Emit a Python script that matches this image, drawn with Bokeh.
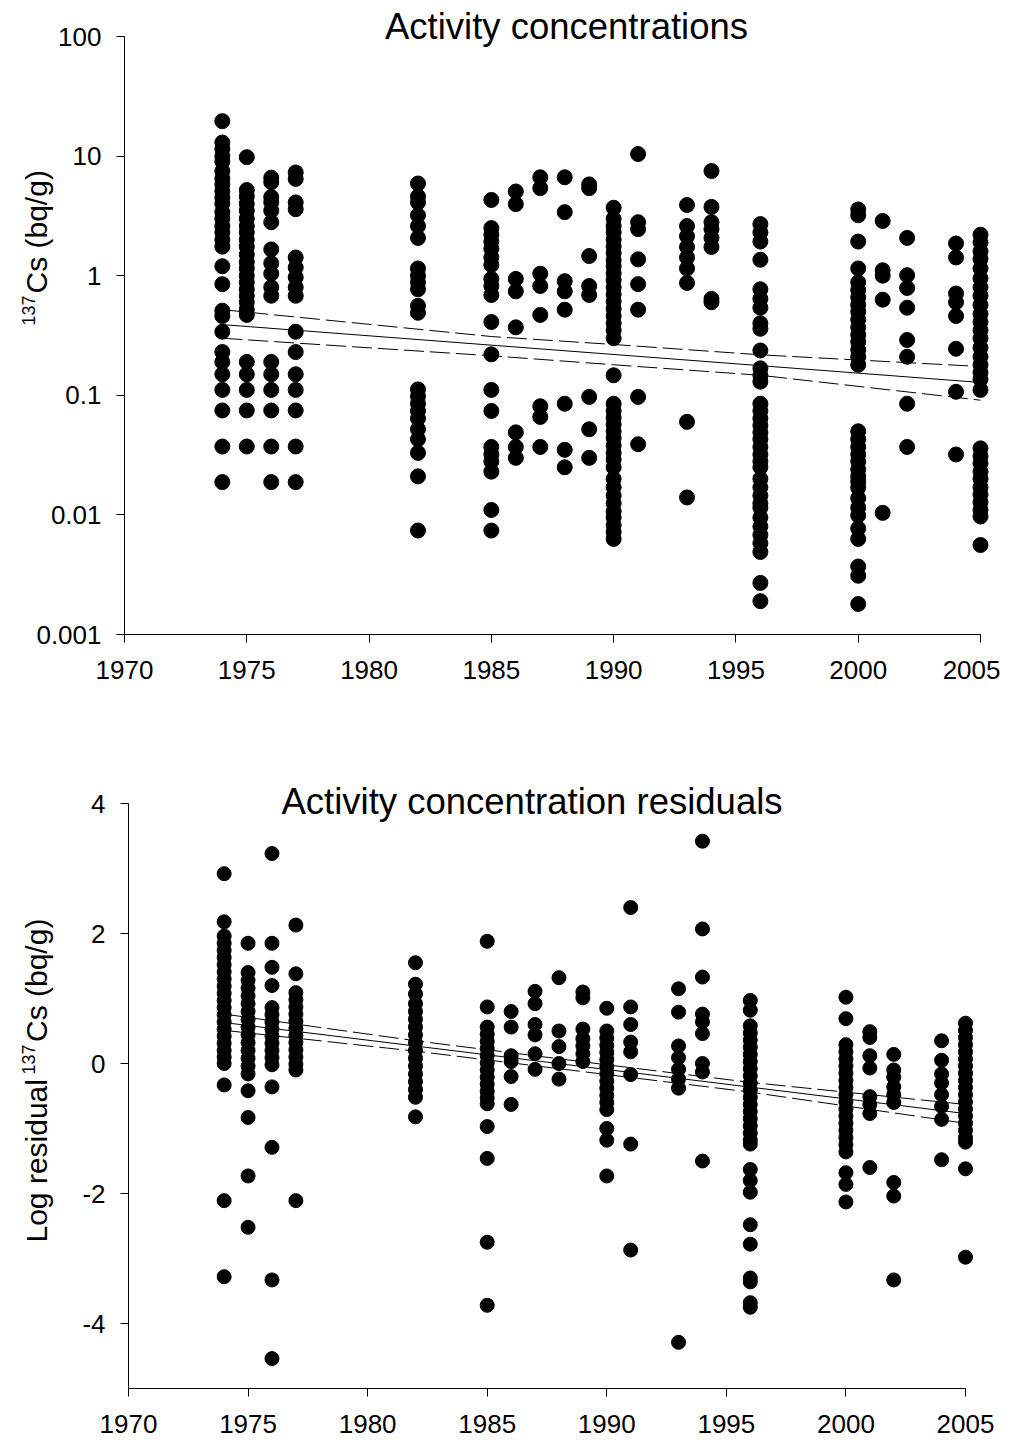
import math
from bokeh.plotting import figure
from bokeh.models import Range1d, FixedTicker, Label, CustomJSTickFormatter
from bokeh.layouts import column
from bokeh.embed import file_html
from bokeh.resources import INLINE

# ---------------- data: activity concentrations (bq/g) ----------------
conc_1974 = [19.6, 13.0, 11.5, 10.0, 9.0, 7.5, 6.5, 5.8, 5.1, 4.5, 4.0, 3.4, 3.0, 2.6, 2.3, 2.0, 1.75,
             1.2, 0.85, 0.51, 0.46, 0.34, 0.23, 0.19, 0.15, 0.111, 0.0747, 0.0373, 0.0188]
conc_1975 = [9.8, 5.2, 4.6, 4.0, 3.5, 3.0, 2.6, 2.3, 2.0, 1.75, 1.5, 1.3, 1.15, 1.0, 0.88, 0.77, 0.68,
             0.6, 0.52, 0.47, 0.19, 0.15, 0.111, 0.0747, 0.0373]
conc_1976 = [6.6, 6.05, 4.55, 4.1, 3.5, 2.8, 1.66, 1.27, 1.04, 0.8, 0.68, 0.19, 0.15, 0.111, 0.0747,
             0.0373, 0.0188]
conc_1977 = [7.3, 6.45, 4.1, 3.6, 1.42, 1.17, 0.97, 0.8, 0.68, 0.34, 0.23, 0.15, 0.111, 0.0747,
             0.0373, 0.0188]
conc_1982 = [5.9, 4.6, 4.1, 3.2, 2.6, 2.07, 1.15, 1.0, 0.88, 0.77, 0.56, 0.49, 0.112, 0.098, 0.085,
             0.074, 0.064, 0.052, 0.043, 0.033, 0.021, 0.0074]
conc_1985 = [4.3, 2.5, 2.2, 1.93, 1.68, 1.42, 1.23, 0.94, 0.82, 0.69, 0.41, 0.22, 0.111, 0.074, 0.037,
             0.032, 0.028, 0.023, 0.011, 0.0074]
conc_1986 = [5.06, 3.97, 0.94, 0.74, 0.37, 0.049, 0.037, 0.030]
conc_1987 = [6.65, 5.4, 1.04, 0.82, 0.47, 0.081, 0.066, 0.037]
conc_1988 = [6.65, 3.4, 0.90, 0.74, 0.52, 0.085, 0.035, 0.025]
conc_1989 = [5.8, 5.4, 1.46, 0.82, 0.69, 0.097, 0.052, 0.030]
conc_1990 = [3.7, 2.99, 2.6, 2.3, 2.0, 1.75, 1.55, 1.35, 1.2, 1.05, 0.92, 0.8, 0.7, 0.61, 0.53, 0.46,
             0.40, 0.35, 0.30, 0.147, 0.085, 0.074, 0.065, 0.057, 0.05, 0.044, 0.038, 0.033, 0.029,
             0.025, 0.020, 0.017, 0.0145, 0.0125, 0.0107, 0.0095, 0.0082, 0.0072, 0.0063]
conc_1991 = [10.4, 2.8, 2.45, 1.37, 0.85, 0.52, 0.097, 0.039]
conc_1993 = [3.9, 2.6, 2.14, 1.74, 1.42, 1.15, 0.87, 0.060, 0.014]
conc_1994 = [7.5, 3.76, 2.8, 2.45, 2.07, 1.74, 0.64, 0.60]
conc_1996 = [2.7, 2.3, 1.93, 1.36, 0.77, 0.64, 0.54, 0.40, 0.36, 0.237, 0.168, 0.147, 0.13, 0.085,
             0.074, 0.064, 0.056, 0.049, 0.043, 0.037, 0.032, 0.028, 0.025, 0.020, 0.017, 0.0145,
             0.0125, 0.0115, 0.0095, 0.008, 0.0068, 0.0058, 0.0049, 0.0027, 0.0019]
conc_2000 = [3.58, 3.2, 1.93, 1.15, 0.88, 0.76, 0.66, 0.57, 0.5, 0.43, 0.37, 0.32, 0.28, 0.24, 0.21,
             0.18, 0.05, 0.043, 0.037, 0.032, 0.028, 0.024, 0.021, 0.019, 0.0169, 0.0138, 0.0115,
             0.0099, 0.0077, 0.0063, 0.0037, 0.0031, 0.0018]
conc_2001 = [2.87, 1.11, 1.0, 0.63, 0.0104]
conc_2002 = [2.07, 1.01, 0.79, 0.54, 0.29, 0.21, 0.085, 0.037]
conc_2004 = [1.86, 1.42, 0.71, 0.60, 0.46, 0.245, 0.107, 0.032]
conc_2005 = [2.2, 1.9, 1.6, 1.38, 1.15, 0.95, 0.8, 0.68, 0.57, 0.48, 0.41, 0.35, 0.3, 0.25, 0.21, 0.18,
             0.155, 0.136, 0.111, 0.036, 0.031, 0.027, 0.023, 0.02, 0.017, 0.0148, 0.0128, 0.011,
             0.0097, 0.0056]

# regression line and confidence band (top panel)
conc_fit_years = [1974, 2005]
conc_fit = [0.39, 0.128]
conc_band_years = [1974, 1985, 1990, 1996, 2005]
conc_band_upper = [0.52, 0.31, 0.266, 0.218, 0.174]
conc_band_lower = [0.30, 0.214, 0.18, 0.147, 0.091]

# ---------------- data: log residuals ----------------
res_1974 = [2.92, 2.18, 1.96, 1.85, 1.74, 1.63, 1.52, 1.41, 1.30, 1.19, 1.08, 0.97, 0.86, 0.75, 0.64,
            0.53, 0.42, 0.31, 0.20, 0.10, 0.0, -0.33, -2.11, -3.28]
res_1975 = [1.85, 1.40, 1.28, 1.16, 1.04, 0.92, 0.80, 0.68, 0.56, 0.44, 0.32, 0.20, 0.08, -0.04, -0.16,
            -0.42, -0.83, -1.73, -2.52]
res_1976 = [3.23, 1.85, 1.48, 1.2, 0.86, 0.75, 0.64, 0.53, 0.42, 0.31, 0.2, 0.09, -0.02, -0.36, -1.29,
            -3.33, -4.54]
res_1977 = [2.13, 1.38, 1.09, 0.98, 0.87, 0.76, 0.65, 0.54, 0.43, 0.32, 0.21, 0.10, -0.01, -0.1, -2.11]
res_1982 = [1.55, 1.22, 1.07, 0.92, 0.8, 0.68, 0.56, 0.44, 0.32, 0.2, 0.08, -0.04, -0.16, -0.28, -0.4,
            -0.52, -0.82]
res_1985 = [1.88, 0.87, 0.56, 0.45, 0.34, 0.23, 0.12, 0.01, -0.1, -0.21, -0.32, -0.43, -0.53, -0.62,
            -0.97, -1.46, -2.75, -3.72]
res_1986 = [0.80, 0.56, 0.12, 0.03, -0.2, -0.63]
res_1987 = [1.11, 0.92, 0.6, 0.44, 0.15, -0.09]
res_1988 = [1.32, 0.5, 0.26, 0.0, -0.24]
res_1989 = [1.10, 1.01, 0.53, 0.38, 0.27, 0.15, 0.03]
res_1990 = [0.85, 0.5, 0.39, 0.28, 0.17, 0.06, -0.05, -0.16, -0.27, -0.38, -0.49, -0.6, -0.71, -1.0,
            -1.18, -1.73]
res_1991 = [2.40, 0.87, 0.6, 0.33, 0.18, -0.17, -1.24, -2.87]
res_1993 = [1.15, 0.79, 0.27, 0.09, -0.09, -0.24, -0.38, -4.29]
res_1994 = [3.42, 2.07, 1.33, 0.76, 0.64, 0.46, 0.0, -0.13, -1.5]
res_1996 = [0.97, 0.82, 0.58, 0.47, 0.36, 0.25, 0.14, 0.03, -0.08, -0.19, -0.3, -0.41, -0.52, -0.63,
            -0.74, -0.85, -0.96, -1.07, -1.18, -1.24, -1.63, -1.8, -1.98, -2.48, -2.78, -3.3, -3.36,
            -3.68, -3.75]
res_2000 = [1.02, 0.69, 0.29, 0.18, 0.07, -0.04, -0.15, -0.26, -0.37, -0.48, -0.59, -0.7, -0.81, -0.92,
            -1.03, -1.14, -1.25, -1.36, -1.68, -1.86, -2.13]
res_2001 = [0.49, 0.40, 0.12, -0.07, -0.51, -0.63, -0.77, -1.6]
res_2002 = [0.14, -0.1, -0.21, -0.36, -0.48, -0.6, -1.83, -2.04, -3.33]
res_2004 = [0.35, 0.05, -0.16, -0.3, -0.48, -0.66, -0.86, -1.48]
res_2005 = [0.62, 0.51, 0.4, 0.29, 0.18, 0.07, -0.04, -0.15, -0.26, -0.37, -0.48, -0.59, -0.7, -0.81,
            -0.92, -1.03, -1.14, -1.21, -1.62, -2.98]

res_fit_years = [1974, 2005]
res_fit = [0.63, -0.77]
res_band_years = [1974, 1982, 1990, 1996, 2005]
res_band_upper = [0.76, 0.35, -0.02, -0.29, -0.63]
res_band_lower = [0.51, 0.19, -0.17, -0.44, -0.92]

# ---------------- ticks ----------------
x_ticks = [1970, 1975, 1980, 1985, 1990, 1995, 2000, 2005]
conc_ticks = [0.001, 0.01, 0.1, 1, 10, 100]
conc_tick_labels = ["0.001", "0.01", "0.1", "1", "10", "100"]
res_ticks = [-4, -2, 0, 2, 4]
res_tick_labels = ["-4", "-2", "0", "2", "4"]

conc_groups = [(1974, conc_1974), (1975, conc_1975), (1976, conc_1976), (1977, conc_1977),
               (1982, conc_1982), (1985, conc_1985), (1986, conc_1986), (1987, conc_1987),
               (1988, conc_1988), (1989, conc_1989), (1990, conc_1990), (1991, conc_1991),
               (1993, conc_1993), (1994, conc_1994), (1996, conc_1996), (2000, conc_2000),
               (2001, conc_2001), (2002, conc_2002), (2004, conc_2004), (2005, conc_2005)]
res_groups = [(1974, res_1974), (1975, res_1975), (1976, res_1976), (1977, res_1977),
              (1982, res_1982), (1985, res_1985), (1986, res_1986), (1987, res_1987),
              (1988, res_1988), (1989, res_1989), (1990, res_1990), (1991, res_1991),
              (1993, res_1993), (1994, res_1994), (1996, res_1996), (2000, res_2000),
              (2001, res_2001), (2002, res_2002), (2004, res_2004), (2005, res_2005)]

conc_x = [yr for yr, vals in conc_groups for _ in vals]
conc_y = [v for yr, vals in conc_groups for v in vals]
res_x = [yr for yr, vals in res_groups for _ in vals]
res_y = [v for yr, vals in res_groups for v in vals]

FONT = "Liberation Sans"

# ---------------- page geometry (page pixels) ----------------
FIG_W = 1000
P1_TOP, P1_BOT = 0, 700          # page rows occupied by the first figure
P2_TOP, P2_BOT = 700, 1445       # page rows occupied by the second figure
L1, T1, W1, H1 = 124, 36, 856, 598    # data area of panel 1
L2, T2, W2, H2 = 128, 803, 837, 585   # data area of panel 2
BASE_SHIFT = 0.3                      # baseline compensation, in em


def p1_x(px):
    return 1970 + (px - L1) / W1 * 35


def p1_logy(py):
    return 2 - (py - T1) / H1 * 5


def p1_y(py):
    return 10 ** p1_logy(py)


def p2_x(px):
    return 1970 + (px - L2) / W2 * 35


def p2_y(py):
    return 4 - (py - T2) / H2 * 9


def style(p):
    p.xgrid.visible = False
    p.ygrid.visible = False
    p.outline_line_color = None
    p.background_fill_color = "white"
    p.border_fill_color = "white"
    for ax in p.axis:
        ax.axis_line_color = "black"
        ax.axis_line_width = 1
        ax.major_tick_line_color = "black"
        ax.major_tick_line_width = 1
        ax.minor_tick_line_color = None
        ax.major_tick_in = 0
        ax.major_tick_out = 8
        ax.major_label_text_font = FONT
        ax.major_label_text_font_size = "26px"
        ax.major_label_text_color = "black"
    p.xaxis.ticker = FixedTicker(ticks=x_ticks)
    p.xaxis.major_label_standoff = 18
    p.yaxis.major_label_standoff = 15
    p.xaxis.bounds = (1970, 2005)
    p.yaxis.fixed_location = 1970


fmt_code_log = """
for (let i = 0; i < tick_vals.length; i++) {
  if (Math.abs(Math.log10(tick_vals[i]) - Math.log10(tick)) < 1e-6) return tick_text[i];
}
return "";
"""
fmt_code_lin = """
for (let i = 0; i < tick_vals.length; i++) {
  if (Math.abs(tick_vals[i] - tick) < 1e-9) return tick_text[i];
}
return "";
"""


def hlabel(p, fx, fy, px, py, text, size):
    p.add_layout(Label(x=fx(px), y=fy(py - BASE_SHIFT * size), text=text,
                       text_font=FONT, text_font_size=f"{size}px", text_color="black",
                       text_align="center", text_baseline="alphabetic"))


def vlabel(p, fx, fy, px, py, text, size):
    p.add_layout(Label(x=fx(px - BASE_SHIFT * size), y=fy(py), text=text, angle=math.pi / 2,
                       text_font=FONT, text_font_size=f"{size}px", text_color="black",
                       text_align="left", text_baseline="alphabetic"))


# ---------------- top panel ----------------
p1 = figure(width=FIG_W, height=P1_BOT - P1_TOP,
            x_range=Range1d(p1_x(0), p1_x(FIG_W)),
            y_range=Range1d(p1_y(P1_BOT), p1_y(P1_TOP)), y_axis_type="log", title=None,
            output_backend="svg", toolbar_location=None,
            min_border_left=0, min_border_right=0, min_border_top=0, min_border_bottom=0)
style(p1)
p1.xaxis.fixed_location = 0.001
p1.yaxis.bounds = (0.001, 100)
p1.yaxis.ticker = FixedTicker(ticks=conc_ticks)
p1.yaxis.formatter = CustomJSTickFormatter(
    args=dict(tick_vals=conc_ticks, tick_text=conc_tick_labels), code=fmt_code_log)

p1.scatter(conc_x, conc_y, size=15, color="black", marker="circle")
p1.line(conc_fit_years, conc_fit, line_color="black", line_width=1)
p1.line(conc_band_years, conc_band_upper, line_color="black", line_width=1, line_dash="20 6")
p1.line(conc_band_years, conc_band_lower, line_color="black", line_width=1, line_dash="20 6")

hlabel(p1, p1_x, p1_y, 566, 37, "Activity concentrations", 36.5)
vlabel(p1, p1_x, p1_y, 45, 293, "Cs (bq/g)", 30)
vlabel(p1, p1_x, p1_y, 33, 325, "137", 18)

# ---------------- bottom panel ----------------
p2 = figure(width=FIG_W, height=P2_BOT - P2_TOP,
            x_range=Range1d(p2_x(0), p2_x(FIG_W)),
            y_range=Range1d(p2_y(P2_BOT), p2_y(P2_TOP)), title=None,
            output_backend="svg", toolbar_location=None,
            min_border_left=0, min_border_right=0, min_border_top=0, min_border_bottom=0)
style(p2)
p2.xaxis.fixed_location = -5
p2.yaxis.bounds = (-5, 4)
p2.yaxis.ticker = FixedTicker(ticks=res_ticks)
p2.yaxis.formatter = CustomJSTickFormatter(
    args=dict(tick_vals=res_ticks, tick_text=res_tick_labels), code=fmt_code_lin)

p2.scatter(res_x, res_y, size=14, color="black", marker="circle")
p2.line(res_fit_years, res_fit, line_color="black", line_width=1)
p2.line(res_band_years, res_band_upper, line_color="black", line_width=1, line_dash="20 6")
p2.line(res_band_years, res_band_lower, line_color="black", line_width=1, line_dash="20 6")

hlabel(p2, p2_x, p2_y, 531.5, 812, "Activity concentration residuals", 36.5)
vlabel(p2, p2_x, p2_y, 45, 1242, "Log residual", 30)
vlabel(p2, p2_x, p2_y, 33, 1074, "137", 18)
vlabel(p2, p2_x, p2_y, 45, 1041.5, "Cs (bq/g)", 30)

layout = column(p1, p2)
open("out.html", "w").write(file_html(layout, INLINE))
